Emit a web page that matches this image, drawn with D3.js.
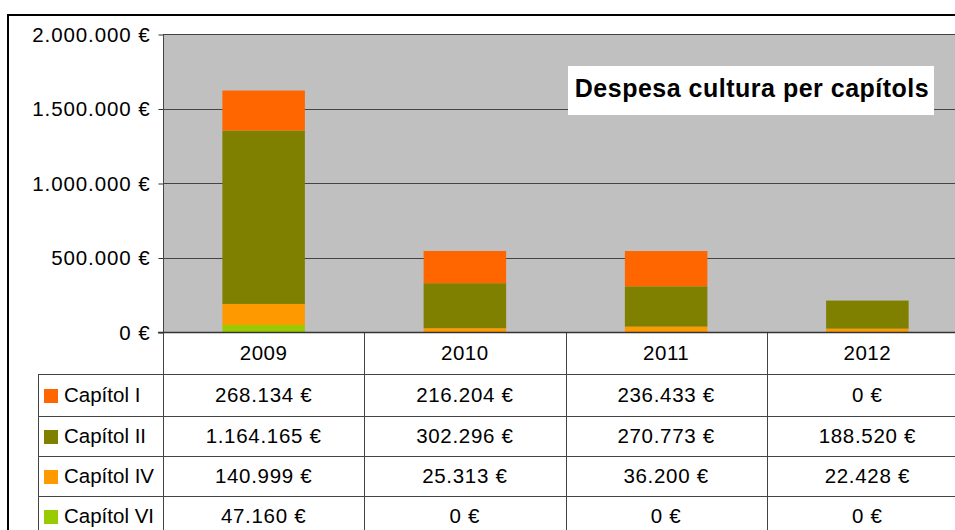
<!DOCTYPE html>
<html>
<head>
<meta charset="utf-8">
<script src="https://cdn.jsdelivr.net/npm/d3@7"></script>
<style>
  body { margin: 0; background: #fff; }
  svg { display: block; font-family: "Liberation Sans", Arial, sans-serif; }
</style>
</head>
<body>
<div id="chart"></div>
<script>
// data
var years = ['2009', '2010', '2011', '2012'];
var series = ['Capítol I', 'Capítol II', 'Capítol IV', 'Capítol VI'];
var capitolI = [268134, 216204, 236433, 0];
var capitolII = [1164165, 302296, 270773, 188520];
var capitolIV = [140999, 25313, 36200, 22428];
var capitolVI = [47160, 0, 0, 0];
var colors = ['#ff6600', '#808000', '#ff9900', '#99cc00'];
var yTicks = [0, 500000, 1000000, 1500000, 2000000];
var title = 'Despesa cultura per capítols';

var values = [capitolI, capitolII, capitolIV, capitolVI];
var rows = years.map(function(yr, i) {
  var r = { year: yr };
  series.forEach(function(s, k) { r[s] = values[k][i]; });
  return r;
});

var W = 955, H = 530;
var plotL = 163, plotR = 968, plotT = 34, zero = 332;
var rowH = [42, 42, 40, 40, 40];
var fs = 20.5;

var fmt = function(v) {
  return String(v).replace(/\B(?=(\d{3})+(?!\d))/g, '.') + ' €';
};

var svg = d3.select('#chart').append('svg')
  .attr('width', W).attr('height', H);

// outer frame
svg.append('rect')
  .attr('x', 8).attr('y', 15).attr('width', 1000).attr('height', 600)
  .attr('fill', 'none').attr('stroke', '#000').attr('stroke-width', 2);

var x = d3.scaleBand().domain(years).range([plotL, plotR]).paddingInner(0.59).paddingOuter(0.295);
var cols = d3.scaleBand().domain(years).range([plotL, plotR]);
var y = d3.scaleLinear().domain([0, 2000000]).range([zero, plotT]);

// plot background
svg.append('rect')
  .attr('x', plotL).attr('y', plotT).attr('width', plotR - plotL).attr('height', zero - plotT)
  .attr('fill', '#c0c0c0');

// gridlines
svg.append('g').selectAll('line').data(yTicks).join('line')
  .attr('x1', plotL).attr('x2', plotR)
  .attr('y1', function(d) { return Math.round(y(d)) + 0.5; })
  .attr('y2', function(d) { return Math.round(y(d)) + 0.5; })
  .attr('stroke', '#444').attr('stroke-width', 1);

// bars (stack bottom: VI, IV, II, I)
var stacked = d3.stack().keys(series.slice().reverse())(rows);
svg.append('g').selectAll('g').data(stacked).join('g')
  .attr('fill', function(d) { return colors[series.indexOf(d.key)]; })
  .selectAll('rect').data(function(d) { return d; }).join('rect')
  .attr('x', function(d) { return x(d.data.year); })
  .attr('width', x.bandwidth())
  .attr('y', function(d) { return y(d[1]); })
  .attr('height', function(d) { return y(d[0]) - y(d[1]); });

// y axis
var yAxis = d3.axisLeft(y).tickValues(yTicks).tickSize(5).tickPadding(8).tickFormat(fmt);
var ga = svg.append('g').attr('transform', 'translate(' + (plotL + 0.5) + ',0.5)').call(yAxis);
ga.select('.domain').remove();
ga.selectAll('.tick line').attr('stroke', '#333');
ga.selectAll('.tick text').attr('font-size', fs).attr('fill', '#000').attr('letter-spacing', 0.9)
  .attr('font-family', '"Liberation Sans", Arial, sans-serif');

// title box
var tg = svg.append('g');
tg.append('rect').attr('x', 568).attr('y', 66).attr('width', 366).attr('height', 49).attr('fill', '#fff');
tg.append('text').attr('x', 752).attr('y', 97).attr('text-anchor', 'middle')
  .attr('font-size', 25).attr('font-weight', 'bold').attr('letter-spacing', 0.5).text(title);

// data table
var lineCol = '#444';
var rowY = [zero];
rowH.forEach(function(h, i) { rowY.push(rowY[i] + h); });
var tbl = svg.append('g');

// vertical lines
tbl.append('line').attr('x1', plotL + 0.5).attr('x2', plotL + 0.5).attr('y1', plotT).attr('y2', H)
  .attr('stroke', lineCol);
tbl.selectAll('line.col').data(years.slice(1)).join('line').attr('class', 'col')
  .attr('x1', function(d) { return Math.round(cols(d)) + 0.5; })
  .attr('x2', function(d) { return Math.round(cols(d)) + 0.5; })
  .attr('y1', zero).attr('y2', H).attr('stroke', lineCol);
tbl.append('line').attr('x1', 38.5).attr('x2', 38.5).attr('y1', rowY[1]).attr('y2', H)
  .attr('stroke', lineCol);

// horizontal lines
tbl.append('line').attr('x1', plotL - 5).attr('x2', plotR).attr('y1', zero + 0.5).attr('y2', zero + 0.5)
  .attr('stroke', '#333').attr('stroke-width', 1.5);
tbl.selectAll('line.row').data(rowY.slice(1, 5)).join('line').attr('class', 'row')
  .attr('x1', 38).attr('x2', plotR)
  .attr('y1', function(d) { return d + 0.5; }).attr('y2', function(d) { return d + 0.5; })
  .attr('stroke', lineCol);

// header years
tbl.selectAll('text.year').data(years).join('text').attr('class', 'year')
  .attr('x', function(d) { return cols(d) + cols.bandwidth() / 2; })
  .attr('y', (rowY[0] + rowY[1]) / 2 + 7)
  .attr('text-anchor', 'middle').attr('font-size', fs).attr('letter-spacing', 0.5)
  .text(function(d) { return d; });

// legend + values
series.forEach(function(s, k) {
  var cy = (rowY[k + 1] + rowY[k + 2]) / 2;
  tbl.append('rect').attr('x', 44).attr('y', cy - 6).attr('width', 14).attr('height', 14)
    .attr('fill', colors[k]);
  tbl.append('text').attr('x', 64).attr('y', cy + 7).attr('font-size', fs).text(s);
  tbl.selectAll('text.v' + k).data(values[k]).join('text').attr('class', 'v' + k)
    .attr('x', function(d, i) { return cols(years[i]) + cols.bandwidth() / 2; })
    .attr('y', cy + 7).attr('text-anchor', 'middle').attr('font-size', fs).attr('letter-spacing', 0.7)
    .text(function(d) { return fmt(d); });
});
</script>
</body>
</html>
